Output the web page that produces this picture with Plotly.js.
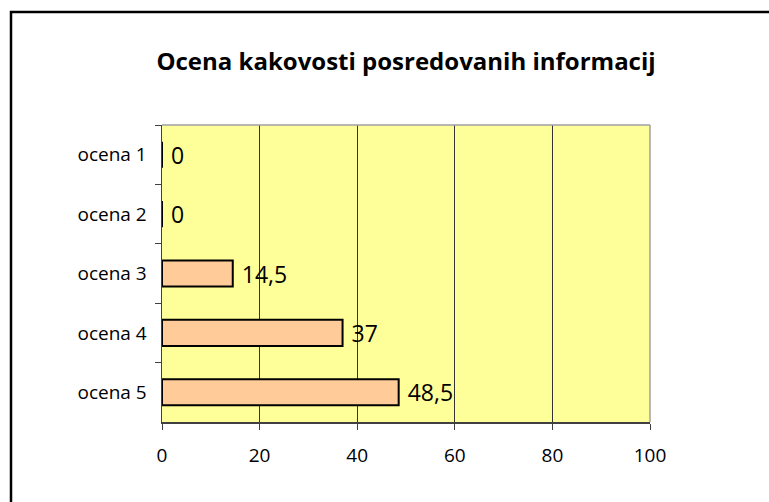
<!DOCTYPE html>
<html>
<head>
<meta charset="utf-8">
<script src="https://cdn.plot.ly/plotly-3.0.1.min.js"></script>
<style>
  html, body { margin: 0; padding: 0; background: #ffffff; }
  #chart { width: 769px; height: 502px; }
</style>
</head>
<body>
<div id="chart"></div>
<script>
const categories = ["ocena 1", "ocena 2", "ocena 3", "ocena 4", "ocena 5"];
const values = [0, 0, 14.5, 37, 48.5];
const titleText = "Ocena kakovosti posredovanih informacij";
const xTicks = [0, 20, 40, 60, 80, 100];

const FONT = "'Open Sans', 'DejaVu Sans', sans-serif";

const trace = {
  type: "bar",
  orientation: "h",
  y: categories,
  x: values,
  width: 0.44,
  marker: { color: "#FFCC99", line: { color: "#000000", width: 2 } },
  text: values.map(v => "\u00a0" + String(v).replace(".", ",")),
  textposition: "outside",
  constraintext: "none",
  textfont: { family: FONT, size: 23, color: "#000000" },
  cliponaxis: false,
  hoverinfo: "none"
};

const L = 162, R = 650, T = 125, B = 422;
const W = 769, H = 502;
const pw = R - L, ph = B - T;
const px = v => (v - L) / pw;
const py = v => (B - v) / ph;

const layout = {
  width: W,
  height: H,
  margin: { l: L, r: W - R, t: T, b: H - B, pad: 0 },
  paper_bgcolor: "#ffffff",
  plot_bgcolor: "#FFFF99",
  showlegend: false,
  separators: ", ",
  title: {
    text: "<b>" + titleText + "</b>",
    font: { family: FONT, size: 24, color: "#000000" },
    x: 0.5,
    xref: "paper",
    xanchor: "center",
    y: 1 - 62 / H,
    yref: "container",
    yanchor: "middle"
  },
  xaxis: {
    range: [0, 100],
    tickvals: xTicks,
    ticktext: xTicks.map(String),
    showgrid: true,
    gridcolor: "#333333",
    gridwidth: 1,
    zeroline: false,
    showline: true,
    linecolor: "#404040",
    linewidth: 1.5,
    ticks: "outside",
    ticklen: 6,
    tickcolor: "#404040",
    tickfont: { family: FONT, size: 19, color: "#000000" },
    ticklabelstandoff: 10,
    fixedrange: true
  },
  yaxis: {
    type: "category",
    autorange: "reversed",
    showgrid: false,
    zeroline: false,
    showline: true,
    linecolor: "#404040",
    linewidth: 1.5,
    ticks: "outside",
    tickson: "boundaries",
    ticklen: 6,
    tickcolor: "#404040",
    tickfont: { family: FONT, size: 19, color: "#000000" },
    ticklabelstandoff: 10,
    fixedrange: true
  },
  shapes: [
    { type: "line", xref: "paper", yref: "paper", x0: 0, x1: 1, y0: 1, y1: 1,
      line: { color: "#A0A0A0", width: 1.5 }, layer: "above" },
    { type: "line", xref: "paper", yref: "paper", x0: 1, x1: 1, y0: 0, y1: 1,
      line: { color: "#A0A0A0", width: 1.5 }, layer: "above" },
    { type: "rect", xref: "paper", yref: "paper",
      x0: px(11), x1: px(800), y0: py(540), y1: py(12),
      line: { color: "#000000", width: 2.5 }, fillcolor: "rgba(0,0,0,0)", layer: "above" }
  ]
};

Plotly.newPlot("chart", [trace], layout, { staticPlot: true, displayModeBar: false });
</script>
</body>
</html>
